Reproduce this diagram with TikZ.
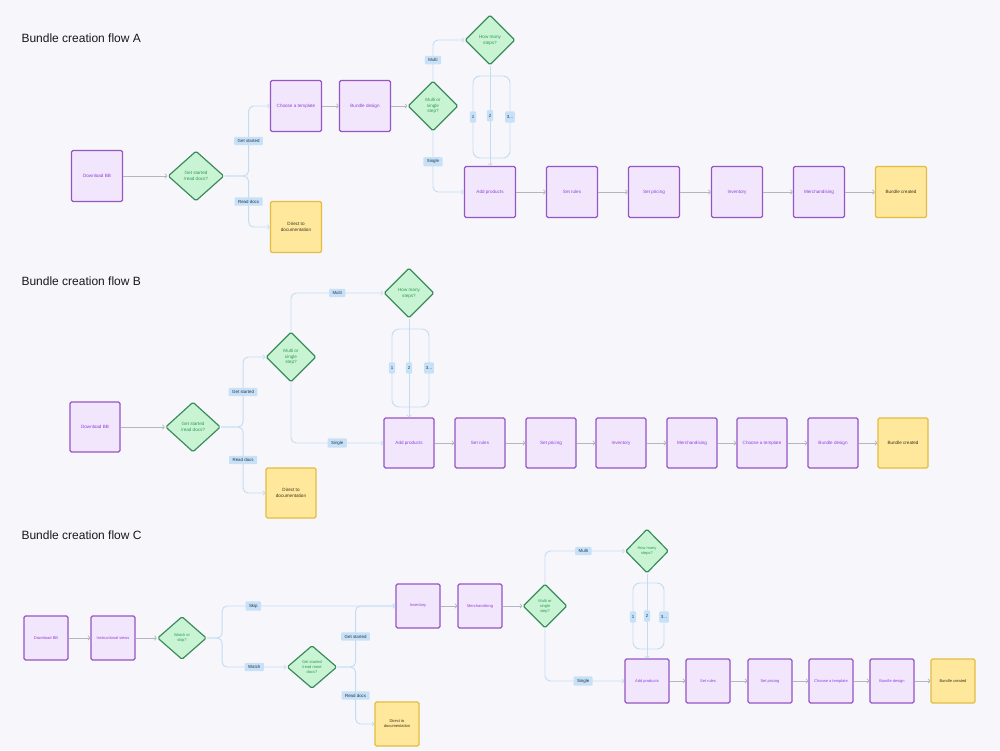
\documentclass[tikz,border=0pt]{standalone}
\usepackage{fontspec}
\setmainfont{Liberation Sans}
\usetikzlibrary{shapes.geometric,arrows.meta}

\definecolor{bgc}{HTML}{F7F7FB}
\definecolor{pfill}{HTML}{F2E6FD}
\definecolor{pdraw}{HTML}{9555C6}
\definecolor{ptext}{HTML}{8C42D6}
\definecolor{gfill}{HTML}{C8F4D3}
\definecolor{gdraw}{HTML}{3B8B5D}
\definecolor{gtext}{HTML}{2E9A58}
\definecolor{yfill}{HTML}{FFE79B}
\definecolor{ydraw}{HTML}{E3BC42}
\definecolor{ytext}{HTML}{3A3520}
\definecolor{lblue}{HTML}{C2DCF4}
\definecolor{tagc}{HTML}{C6E1F8}
\definecolor{tagt}{HTML}{2A3440}
\definecolor{garr}{HTML}{B5B5C0}

\tikzset{
 txt/.style={font=\fontsize{4.6}{5.8}\selectfont, align=center},
 stxt/.style={font=\fontsize{4}{5}\selectfont, align=center},
 pbox/.style={draw=pdraw, fill=pfill, text=ptext, line width=1.2pt, rounded corners=1.5pt, minimum width=51pt, minimum height=51pt, inner sep=0pt, txt},
 ybox/.style={pbox, draw=ydraw, fill=yfill, text=ytext},
 dia/.style={diamond, draw=gdraw, fill=gfill, text=gtext, line width=1.2pt, rounded corners=1.5pt, inner sep=0pt, minimum width=50pt, minimum height=50pt, txt},
 tag/.style={fill=tagc, text=tagt, rounded corners=1pt, inner xsep=3.5pt, inner ysep=2.6pt, font=\fontsize{4.4}{5}\selectfont},
 ntag/.style={tag, inner xsep=1.8pt, inner ysep=4pt},
 conn/.style={draw=lblue, line width=0.9pt, rounded corners=5pt},
 brace/.style={draw=lblue, line width=0.9pt, rounded corners=7pt},
 tipc/.style={-{Straight Barb[length=2pt,width=4.5pt,line width=0.7pt]}},
 flow/.style={draw=garr, line width=0.8pt, -{Straight Barb[length=2pt,width=4.5pt,line width=0.7pt]}},
 csize/.style={minimum width=44pt, minimum height=44pt, stxt},
 title/.style={font=\fontsize{12}{14}\selectfont, anchor=west, text=black!90},
}

\begin{document}
\begin{tikzpicture}[x=1pt,y=-1pt]
\fill[bgc] (0,0) rectangle (1000,750);
\useasboundingbox (0,0) rectangle (1000,750);

% ================= Flow A =================
\node[title] (tA) at (18,38) {Bundle creation flow A};
\node[pbox] (dlA) at (97,176) {Download BB};
\node[dia, minimum width=56pt] (gsA) at (196,176) {Get started\\/read docs?};
\node[pbox] (ctA) at (296,106) {Choose a template};
\node[ybox] (docA) at (296,227) {Direct to\\documentation};
\node[pbox] (bdA) at (365,106) {Bundle design};
\node[dia] (msA) at (433,106) {Multi or\\single\\step?};
\node[dia] (hmA) at (490,40) {How many\\steps?};
\node[pbox] (apA) at (490,192) {Add products};
\node[pbox] (srA) at (572,192) {Set rules};
\node[pbox] (spA) at (654,192) {Set pricing};
\node[pbox] (ivA) at (737,192) {Inventory};
\node[pbox] (mcA) at (819,192) {Merchandising};
\node[ybox] (bcA) at (901,192) {Bundle created};

\draw[flow] (dlA) -- (gsA);
\draw[conn,tipc] (gsA.east) -- ++(24,0) |- node[tag,pos=0.25]{Get started} (ctA.west);
\draw[conn,tipc] (gsA.east) -- ++(24,0) |- node[tag,pos=0.25]{Read docs} (docA.west);
\draw[flow] (ctA) -- (bdA);
\draw[flow] (bdA) -- (msA);
\draw[conn,tipc] (msA.north) |- node[tag,pos=0.25]{Multi} (hmA.west);
\draw[conn,tipc] (msA.south) |- node[tag,pos=0.25]{Single} (apA.west);
\coordinate (bAt) at (490,76);
\coordinate (bAb) at (490,158);
\draw[brace] (bAt) -| (473,117) node[ntag]{1} |- (bAb);
\draw[brace] (bAt) -| (510,117) node[ntag]{3...} |- (bAb);
\draw[conn,tipc] (hmA.south) -- node[ntag,pos=0.5]{2} (apA.north);
\draw[flow] (apA) -- (srA);
\draw[flow] (srA) -- (spA);
\draw[flow] (spA) -- (ivA);
\draw[flow] (ivA) -- (mcA);
\draw[flow] (mcA) -- (bcA);

% ================= Flow B =================
\node[title] (tB) at (18,281) {Bundle creation flow B};
\node[pbox, minimum width=50pt, minimum height=50pt] (dlB) at (95,427) {Download BB};
\node[dia, minimum width=55pt] (gsB) at (193,427) {Get started\\/read docs?};
\node[dia] (msB) at (291,357) {Multi or\\single\\step?};
\node[ybox, minimum width=50pt, minimum height=50pt] (docB) at (291,493) {Direct to\\documentation};
\node[dia] (hmB) at (409,293) {How many\\steps?};
\node[pbox, minimum width=50pt, minimum height=50pt] (apB) at (409,443) {Add products};
\node[pbox, minimum width=50pt, minimum height=50pt] (srB) at (480,443) {Set rules};
\node[pbox, minimum width=50pt, minimum height=50pt] (spB) at (551,443) {Set pricing};
\node[pbox, minimum width=50pt, minimum height=50pt] (ivB) at (621,443) {Inventory};
\node[pbox, minimum width=50pt, minimum height=50pt] (mcB) at (692,443) {Merchandising};
\node[pbox, minimum width=50pt, minimum height=50pt] (ctB) at (762,443) {Choose a template};
\node[pbox, minimum width=50pt, minimum height=50pt] (bdB) at (833,443) {Bundle design};
\node[ybox, minimum width=50pt, minimum height=50pt] (bcB) at (903,443) {Bundle created};

\draw[flow] (dlB) -- (gsB);
\draw[conn,tipc] (gsB.east) -- ++(22,0) |- node[tag,pos=0.25]{Get started} (msB.west);
\draw[conn,tipc] (gsB.east) -- ++(22,0) |- node[tag,pos=0.25]{Read docs} (docB.west);
\draw[conn,tipc] (msB.north) |- node[tag,pos=0.75]{Multi} (hmB.west);
\draw[conn,tipc] (msB.south) |- node[tag,pos=0.75]{Single} (apB.west);
\coordinate (bBt) at (409,329);
\coordinate (bBb) at (409,407);
\draw[brace] (bBt) -| (392,368) node[ntag]{1} |- (bBb);
\draw[brace] (bBt) -| (429,368) node[ntag]{3...} |- (bBb);
\draw[conn,tipc] (hmB.south) -- node[ntag,pos=0.5]{2} (apB.north);
\draw[flow] (apB) -- (srB);
\draw[flow] (srB) -- (spB);
\draw[flow] (spB) -- (ivB);
\draw[flow] (ivB) -- (mcB);
\draw[flow] (mcB) -- (ctB);
\draw[flow] (ctB) -- (bdB);
\draw[flow] (bdB) -- (bcB);

% ================= Flow C =================
\node[title] (tC) at (18,535) {Bundle creation flow C};
\node[pbox, csize] (dlC) at (46,638) {Download BB};
\node[pbox, csize] (ivwC) at (113,638) {Instructional views};
\node[dia, stxt, minimum width=49pt, minimum height=43pt] (wsC) at (182,638) {Watch or\\skip?};
\node[dia, stxt, minimum width=50pt, minimum height=43pt] (gsC) at (312,667) {Get started\\/read more\\docs?};
\node[ybox, csize] (docC) at (397,724) {Direct to\\documentation};
\node[pbox, csize] (invC) at (418,606) {Inventory};
\node[pbox, csize] (mcC) at (480,606) {Merchandising};
\node[dia, stxt, minimum width=44pt, minimum height=44pt] (msC) at (545,606) {Multi or\\single\\step?};
\node[dia, stxt, minimum width=43pt, minimum height=44pt] (hmC) at (647,551) {How many\\steps?};
\node[pbox, csize] (apC) at (647,681) {Add products};
\node[pbox, csize] (srC) at (708,681) {Set rules};
\node[pbox, csize] (spC) at (770,681) {Set pricing};
\node[pbox, csize] (ctC) at (831,681) {Choose a template};
\node[pbox, csize] (bdC) at (892,681) {Bundle design};
\node[ybox, csize] (bcC) at (953,681) {Bundle created};

\draw[flow] (dlC) -- (ivwC);
\draw[flow] (ivwC) -- (wsC);
\draw[conn,tipc] (wsC.east) -- ++(15,0) |- node[tag,pos=0.59]{Skip} (invC.west);
\draw[conn,tipc] (wsC.east) -- ++(15,0) |- node[tag,pos=0.75]{Watch} (gsC.west);
\draw[conn,tipc] (gsC.east) -- ++(18,0) |- node[tag,pos=0.25]{Get started} (invC.west);
\draw[conn,tipc] (gsC.east) -- ++(18,0) |- node[tag,pos=0.25]{Read docs} (docC.west);
\draw[flow] (invC) -- (mcC);
\draw[flow] (mcC) -- (msC);
\draw[conn,tipc] (msC.north) |- node[tag,pos=0.74]{Multi} (hmC.west);
\draw[conn,tipc] (msC.south) |- node[tag,pos=0.74]{Single} (apC.west);
\coordinate (bCt) at (647,583);
\coordinate (bCb) at (647,649);
\draw[brace] (bCt) -| (633,617) node[ntag]{1} |- (bCb);
\draw[brace] (bCt) -| (664,617) node[ntag]{3...} |- (bCb);
\draw[conn,tipc] (hmC.south) -- node[ntag,pos=0.5]{2} (apC.north);
\draw[flow] (apC) -- (srC);
\draw[flow] (srC) -- (spC);
\draw[flow] (spC) -- (ctC);
\draw[flow] (ctC) -- (bdC);
\draw[flow] (bdC) -- (bcC);
\end{tikzpicture}
\end{document}
